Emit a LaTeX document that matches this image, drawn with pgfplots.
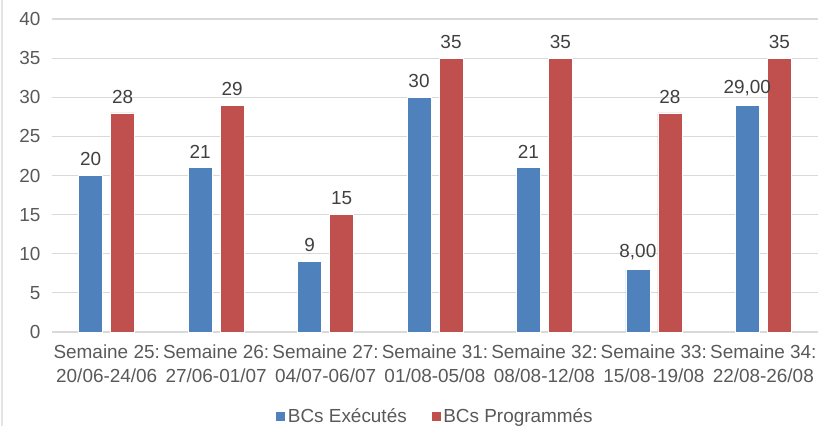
\documentclass[border=0pt]{standalone}
\usepackage{pgfplots}
\pgfplotsset{compat=1.18}
\usepackage{pgfplotstable}
\usepackage{fontspec}
\setmainfont{Liberation Sans}

\definecolor{bcblue}{HTML}{4F81BD}
\definecolor{bcred}{HTML}{C0504D}
\definecolor{gridgray}{HTML}{D9D9D9}
\definecolor{txtgray}{HTML}{595959}
\definecolor{lblgray}{HTML}{404040}

% x  executed  label
\pgfplotstableread{
x  y   lbl
0  20  20
1  21  21
2  9   9
3  30  30
4  21  21
5  8   8,00
6  29  29,00
}\executes

\pgfplotstableread{
x  y   lbl
0  28  28
1  29  29
2  15  15
3  35  35
4  35  35
5  28  28
6  35  35
}\programmes

\begin{document}
\begin{tikzpicture}
\begin{axis}[
    set layers,
    axis on top=false,
    at={(0,0)}, anchor=south west,
    scale only axis,
    width=766bp, height=313bp,
    ybar=8bp,
    bar width=24bp,
    xmin=-0.5, xmax=6.5,
    ymin=0, ymax=40,
    ytick={0,5,...,40},
    xtick={0,...,6},
    xticklabels={{Semaine 25:\\20/06-24/06},{Semaine 26:\\27/06-01/07},{Semaine 27:\\04/07-06/07},{Semaine 31:\\01/08-05/08},{Semaine 32:\\08/08-12/08},{Semaine 33:\\15/08-19/08},{Semaine 34:\\22/08-26/08}},
    xticklabel style={align=center, font=\fontsize{19}{24}\selectfont, text=txtgray, yshift=-9bp},
    yticklabel style={font=\fontsize{19}{20}\selectfont, text=txtgray, xshift=-8bp},
    /pgf/number format/assume math mode=true,
    major tick length=0pt,
    ymajorgrids,
    grid style={gridgray, line width=1.2bp},
    axis line style={draw=none},
    nodes near coords,
    point meta=explicit symbolic,
    every node near coord/.append style={font=\fontsize{19}{20}\selectfont, text=lblgray, yshift=6bp},
    legend style={at={(0.5,-0.27)}, anchor=center, draw=none, legend columns=2,
        font=\fontsize{19}{20}\selectfont, text=txtgray,
        /tikz/every even column/.append style={column sep=22bp}},
    legend image code/.code={\fill[#1] (0bp,-5bp) rectangle (10bp,5bp);},
    clip=false,
]
\addplot[fill=bcblue, draw=white, line width=0.6bp] table[x=x, y=y, meta=lbl] {\executes};
\addlegendentry{BCs Exécutés}
\addplot[fill=bcred, draw=white, line width=0.6bp] table[x=x, y=y, meta=lbl] {\programmes};
\addlegendentry{BCs Programmés}
\end{axis}
\draw[gridgray!70, line width=2bp] (-50bp,-94bp) -- (-50bp,332bp);
\pgfresetboundingbox
\useasboundingbox (-52bp,-94bp) rectangle (767bp,332bp);
\end{tikzpicture}
\end{document}
